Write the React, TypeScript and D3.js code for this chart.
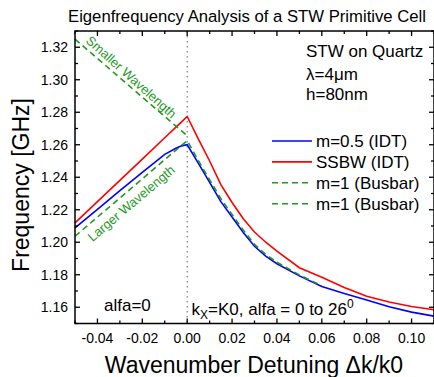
import { useEffect, useRef } from "react";
import * as d3 from "d3";

// Wavenumber detuning values (left branch: alfa = 0, right branch: kx = K0)
const xLeft = [-0.05, -0.04, -0.03, -0.02, -0.01, -0.005, -0.0025, 0];
const xRight = [0, 0.005, 0.01, 0.015, 0.02, 0.025, 0.03, 0.035, 0.04, 0.05, 0.06, 0.07, 0.08, 0.09, 0.1, 0.11];
const xRightBusbar = [0, 0.005, 0.01, 0.015, 0.02, 0.025, 0.03, 0.035, 0.04, 0.05, 0.06];

// Frequencies [GHz]
const idtLeft = [1.2089, 1.2203, 1.2317, 1.243, 1.2541, 1.2578, 1.2593, 1.26];
const idtRight = [1.26, 1.2485, 1.2368, 1.225, 1.2155, 1.206, 1.1975, 1.1915, 1.1868, 1.1793, 1.1728, 1.1685, 1.1645, 1.1603, 1.157, 1.1545];
const ssbwLeft = [1.2119, 1.225, 1.2381, 1.2512, 1.2643, 1.2708, 1.2741, 1.2774];
const ssbwRight = [1.2774, 1.2635, 1.25, 1.2355, 1.2245, 1.2145, 1.2063, 1.2, 1.1945, 1.1843, 1.1785, 1.1722, 1.1668, 1.1632, 1.1605, 1.1585];
const busbarLarger = [1.2037, 1.2155, 1.2272, 1.239, 1.2508, 1.2567, 1.2596, 1.2625];
const busbarRight = [1.2625, 1.2502, 1.2385, 1.2268, 1.2171, 1.2075, 1.1987, 1.1925, 1.1877, 1.1799, 1.1732];
const busbarSmaller = [1.325, 1.3131, 1.3012, 1.2893, 1.2774, 1.2714, 1.2685, 1.2655];

const xTicks = [-0.04, -0.02, 0, 0.02, 0.04, 0.06, 0.08, 0.1];
const yTicks = [1.16, 1.18, 1.2, 1.22, 1.24, 1.26, 1.28, 1.3, 1.32];
const xMinor = [-0.05, -0.03, -0.01, 0.01, 0.03, 0.05, 0.07, 0.09, 0.11];
const yMinor = [1.15, 1.17, 1.19, 1.21, 1.23, 1.25, 1.27, 1.29, 1.31, 1.33];

const legendLabels = ["m=0.5 (IDT)", "SSBW (IDT)", "m=1 (Busbar)", "m=1 (Busbar)"];

const BLUE = "#0000ff";
const RED = "#ff0000";
const GREEN = "#1f9a1f";
const FONT = "'Liberation Sans', Arial, sans-serif";

export default function App() {
  const svgRef = useRef<SVGSVGElement>(null);

  useEffect(() => {
    if (!svgRef.current) return;
    const svg = d3.select(svgRef.current);
    svg.selectAll("*").remove();

    const left = 75;
    const right = 434;
    const top = 31;
    const bottom = 323.5;

    const x = d3.scaleLinear().domain([-0.05, 0.11]).range([left, right]);
    const y = d3.scaleLinear().domain([1.15, 1.33]).range([bottom, top]);

    const g = svg.append("g").style("font-family", FONT);

    const line = d3
      .line<[number, number]>()
      .x((d) => x(d[0]))
      .y((d) => y(d[1]));

    const zip = (xs: number[], ys: number[]) =>
      xs.map((v, i) => [v, ys[i]] as [number, number]);

    // dotted line at zero detuning
    g.append("line")
      .attr("x1", x(0))
      .attr("x2", x(0))
      .attr("y1", top)
      .attr("y2", bottom)
      .attr("stroke", "#666")
      .attr("stroke-width", 1)
      .attr("stroke-dasharray", "1.5,3.5");

    // curves
    g.append("path")
      .attr("d", line(zip(xLeft, ssbwLeft).concat(zip(xRight, ssbwRight).slice(1))))
      .attr("fill", "none")
      .attr("stroke", RED)
      .attr("stroke-width", 1.6);

    g.append("path")
      .attr("d", line(zip(xLeft, idtLeft).concat(zip(xRight, idtRight).slice(1))))
      .attr("fill", "none")
      .attr("stroke", BLUE)
      .attr("stroke-width", 1.6);

    g.append("path")
      .attr("d", line(zip(xLeft, busbarLarger).concat(zip(xRightBusbar, busbarRight).slice(1))))
      .attr("fill", "none")
      .attr("stroke", GREEN)
      .attr("stroke-width", 1.6)
      .attr("stroke-dasharray", "6,4");

    g.append("path")
      .attr("d", line(zip(xLeft, busbarSmaller)))
      .attr("fill", "none")
      .attr("stroke", GREEN)
      .attr("stroke-width", 1.6)
      .attr("stroke-dasharray", "6,4");

    // branch labels along the green lines
    const angle = (ys: number[]) =>
      (Math.atan2(y(ys[4]) - y(ys[0]), x(xLeft[4]) - x(xLeft[0])) * 180) / Math.PI;
    const along = (ys: number[], xv: number) =>
      ys[0] + ((ys[4] - ys[0]) * (xv - xLeft[0])) / (xLeft[4] - xLeft[0]);

    g.append("text")
      .attr(
        "transform",
        `translate(${x(-0.0455)},${y(along(busbarSmaller, -0.0455)) - 6}) rotate(${angle(busbarSmaller) + 1})`
      )
      .style("font-size", "13px")
      .style("fill", GREEN)
      .text("Smaller Wavelength");

    g.append("text")
      .attr(
        "transform",
        `translate(${x(-0.0422)},${y(along(busbarLarger, -0.0422)) + 21}) rotate(${angle(busbarLarger)})`
      )
      .style("font-size", "13px")
      .style("fill", GREEN)
      .text("Larger Wavelength");

    // axes frame
    const axisColor = "#000";
    g.append("rect")
      .attr("x", left)
      .attr("y", top)
      .attr("width", right - left)
      .attr("height", bottom - top)
      .attr("fill", "none")
      .attr("stroke", axisColor)
      .attr("stroke-width", 1.5);

    const tickLen = 5;
    const minorLen = 3;
    const addXTicks = (vals: number[], len: number) => {
      vals.forEach((v) => {
        g.append("line")
          .attr("x1", x(v)).attr("x2", x(v))
          .attr("y1", bottom).attr("y2", bottom - len)
          .attr("stroke", axisColor).attr("stroke-width", 1.3);
        g.append("line")
          .attr("x1", x(v)).attr("x2", x(v))
          .attr("y1", top).attr("y2", top + len)
          .attr("stroke", axisColor).attr("stroke-width", 1.3);
      });
    };
    const addYTicks = (vals: number[], len: number) => {
      vals.forEach((v) => {
        g.append("line")
          .attr("x1", left).attr("x2", left + len)
          .attr("y1", y(v)).attr("y2", y(v))
          .attr("stroke", axisColor).attr("stroke-width", 1.3);
        g.append("line")
          .attr("x1", right).attr("x2", right - len)
          .attr("y1", y(v)).attr("y2", y(v))
          .attr("stroke", axisColor).attr("stroke-width", 1.3);
      });
    };
    addXTicks(xTicks, tickLen);
    addXTicks(xMinor, minorLen);
    addYTicks(yTicks, tickLen);
    addYTicks(yMinor, minorLen);

    // tick labels
    g.selectAll(".xlab")
      .data(xTicks)
      .enter()
      .append("text")
      .attr("x", (d) => x(d))
      .attr("y", 343)
      .attr("text-anchor", "middle")
      .style("font-size", "14px")
      .text((d) => d.toFixed(2));

    g.selectAll(".ylab")
      .data(yTicks)
      .enter()
      .append("text")
      .attr("x", 68)
      .attr("y", (d) => y(d))
      .attr("dy", "0.36em")
      .attr("text-anchor", "end")
      .style("font-size", "14px")
      .text((d) => d.toFixed(2));

    // titles
    g.append("text")
      .attr("x", 247)
      .attr("y", 21.5)
      .attr("text-anchor", "middle")
      .style("font-size", "16.7px")
      .text("Eigenfrequency Analysis of a STW Primitive Cell");

    g.append("text")
      .attr("x", 254)
      .attr("y", 373)
      .attr("text-anchor", "middle")
      .style("font-size", "23px")
      .text("Wavenumber Detuning \u0394k/k0");

    g.append("text")
      .attr("transform", `translate(28.5,185) rotate(-90)`)
      .attr("text-anchor", "middle")
      .style("font-size", "23px")
      .text("Frequency [GHz]");

    // annotations
    const notes = ["STW on Quartz", "\u03bb=4\u03bcm", "h=80nm"];
    const noteY = [56.5, 80, 100];
    notes.forEach((t, i) => {
      g.append("text")
        .attr("x", 306)
        .attr("y", noteY[i])
        .style("font-size", "17px")
        .text(t);
    });

    g.append("text")
      .attr("x", 104)
      .attr("y", 311)
      .style("font-size", "17px")
      .text("alfa=0");

    const kt = g
      .append("text")
      .attr("x", 191.5)
      .attr("y", 315)
      .style("font-size", "17px");
    kt.append("tspan").text("k");
    kt.append("tspan").attr("dy", 4).style("font-size", "12px").text("X");
    kt.append("tspan").attr("dy", -4).text("=K0, alfa = 0 to 26");
    kt.append("tspan").attr("dy", -7).style("font-size", "12px").text("0");

    // legend
    const legendColors = [BLUE, RED, GREEN, GREEN];
    const legendDash = [null, null, "6,4", "6,4"];
    legendLabels.forEach((label, i) => {
      const ly = 141 + i * 20.9;
      g.append("line")
        .attr("x1", 272)
        .attr("x2", 312)
        .attr("y1", ly)
        .attr("y2", ly)
        .attr("stroke", legendColors[i])
        .attr("stroke-width", 1.6)
        .attr("stroke-dasharray", legendDash[i]);
      g.append("text")
        .attr("x", 316)
        .attr("y", ly)
        .attr("dy", "0.36em")
        .style("font-size", "17px")
        .text(label);
    });
  }, []);

  return (
    <svg
      ref={svgRef}
      width={434}
      height={377}
      style={{ position: "absolute", left: 0, top: 0, background: "#fff" }}
    />
  );
}
